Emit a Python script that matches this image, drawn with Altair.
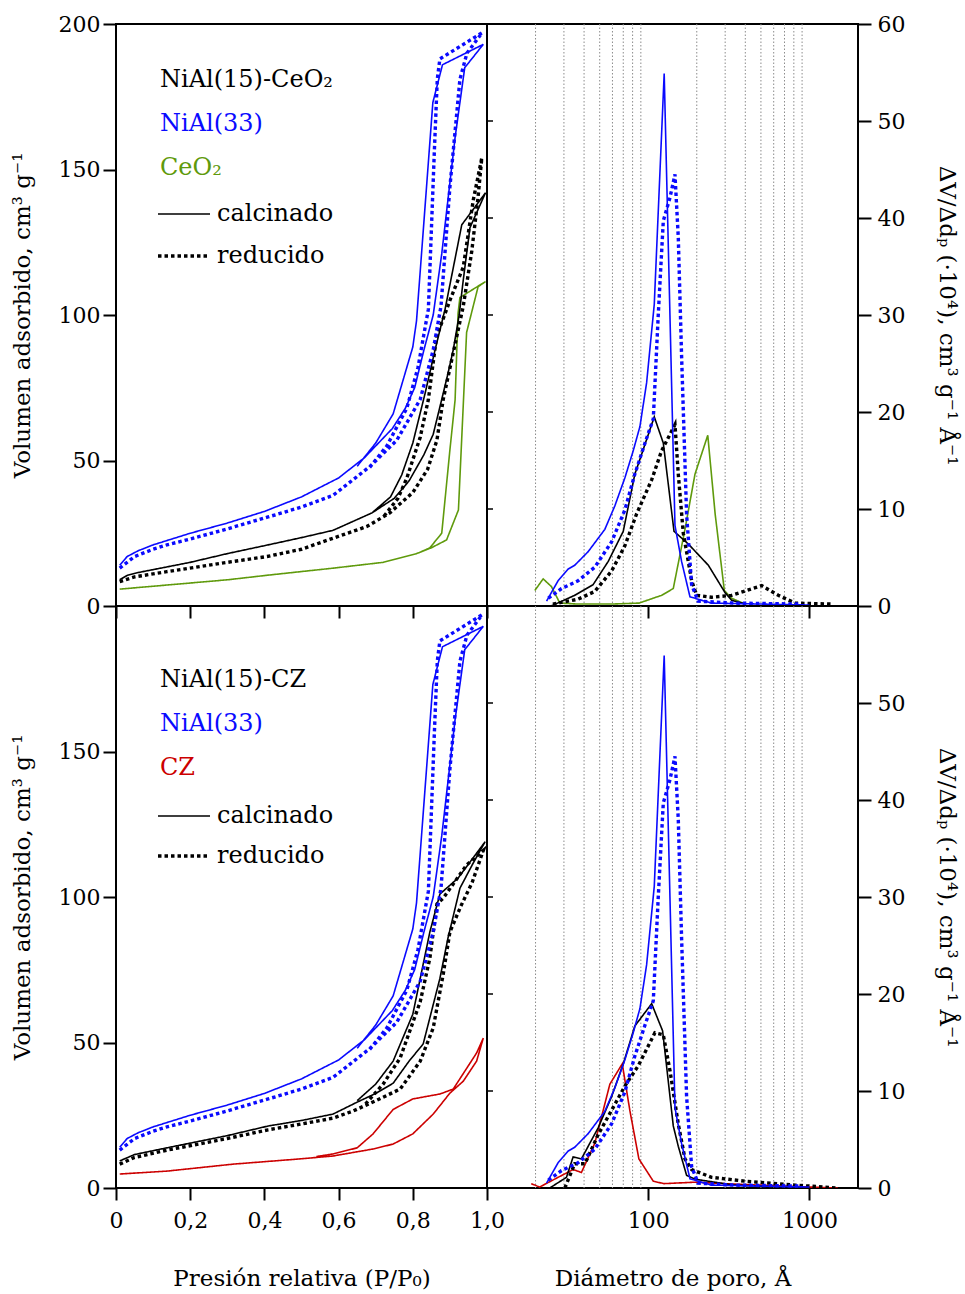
import altair as alt
import pandas as pd

FONT = "DejaVu Serif"
BLUE = "#0a0aff"
GREEN = "#5f9a0c"
RED = "#cc0000"
BLACK = "#000000"
GRIDC = "#8c8c8c"

# ---------------- Isotherms: relative pressure P/P0 and adsorbed volume ----------------
# NiAl(33) calcinado (same in both panels)
N33C_ADS_P = [0.01, 0.03, 0.06, 0.10, 0.15, 0.20, 0.30, 0.40, 0.50, 0.60, 0.67, 0.70, 0.745, 0.78, 0.805, 0.83, 0.855, 0.878, 0.914, 0.94, 0.99]
N33C_ADS_V = [14, 17, 19, 21, 23, 25, 28.5, 32.5, 37.5, 44, 51, 55, 61, 68, 75, 88, 100, 121, 161, 185, 193]
N33C_DES_P = [0.99, 0.88, 0.854, 0.81, 0.80, 0.747, 0.70, 0.65]
N33C_DES_V = [193, 186, 173, 98, 89, 66, 56, 48]
# NiAl(33) reducido
N33R_ADS_P = [0.01, 0.05, 0.10, 0.137, 0.20, 0.30, 0.41, 0.50, 0.585, 0.685, 0.757, 0.82, 0.855, 0.876, 0.90, 0.927, 0.946, 0.987]
N33R_ADS_V = [13, 17, 19.5, 21, 23, 26.5, 30.6, 34, 38, 48, 57, 71, 88, 103, 144, 181, 190, 197]
N33R_DES_P = [0.987, 0.873, 0.866, 0.858, 0.842, 0.814, 0.784, 0.73, 0.68]
N33R_DES_V = [197, 188, 181, 156, 102, 82, 68, 55, 47]

# NiAl(15)-CeO2 calcinado
NCEC_ADS_P = [0.01, 0.03, 0.06, 0.10, 0.20, 0.30, 0.41, 0.50, 0.585, 0.69, 0.75, 0.79, 0.83, 0.855, 0.878, 0.895, 0.909, 0.925, 0.936, 0.954, 0.996]
NCEC_ADS_V = [9, 10.5, 11.5, 12.5, 15, 18, 21, 23.5, 26, 32, 37, 43, 52, 59, 71, 80, 88, 100, 112, 130, 142]
NCEC_DES_P = [0.996, 0.932, 0.887, 0.86, 0.833, 0.80, 0.77, 0.74, 0.69]
NCEC_DES_V = [142, 131, 102, 88, 73, 56, 45, 37.5, 32]
# NiAl(15)-CeO2 reducido
NCER_ADS_P = [0.01, 0.05, 0.137, 0.30, 0.407, 0.50, 0.585, 0.676, 0.738, 0.80, 0.84, 0.865, 0.882, 0.909, 0.936, 0.959, 0.976, 0.986]
NCER_ADS_V = [8.4, 10, 11.8, 15, 17, 19.5, 23.3, 27.3, 32, 39, 47, 57, 71, 87, 103, 122, 140.6, 154]
NCER_DES_P = [0.986, 0.963, 0.936, 0.90, 0.864, 0.842, 0.82, 0.784, 0.76, 0.72]
NCER_DES_V = [154, 139.5, 116.5, 105, 92.5, 71, 58, 44, 37, 30.5]

# CeO2 calcinado
CEO_ADS_P = [0.01, 0.137, 0.30, 0.41, 0.585, 0.72, 0.81, 0.85, 0.891, 0.923, 0.945, 0.976, 0.996]
CEO_ADS_V = [5.8, 7.2, 9, 10.6, 13, 15, 18, 20, 22.7, 33, 94, 109.7, 111.5]
CEO_DES_P = [0.996, 0.927, 0.922, 0.914, 0.90, 0.878, 0.846, 0.82]
CEO_DES_V = [111.5, 106, 100.6, 70.8, 53.6, 25, 20, 18.5]

# NiAl(15)-CZ calcinado
NCZC_ADS_P = [0.01, 0.05, 0.137, 0.30, 0.41, 0.50, 0.585, 0.65, 0.70, 0.747, 0.79, 0.828, 0.873, 0.895, 0.927, 0.96, 0.98, 0.995]
NCZC_ADS_V = [9.3, 11.5, 13.8, 18, 21.3, 23.2, 25.4, 29.5, 32.5, 36, 43.6, 49.5, 72, 86, 103, 111, 115.6, 119]
NCZC_DES_P = [0.995, 0.922, 0.873, 0.846, 0.80, 0.747, 0.70, 0.65]
NCZC_DES_V = [119, 106.5, 101, 88, 59.7, 43.6, 35.7, 30]
# NiAl(15)-CZ reducido
NCZR_ADS_P = [0.01, 0.05, 0.137, 0.30, 0.41, 0.50, 0.585, 0.64, 0.70, 0.766, 0.82, 0.855, 0.882, 0.90, 0.93, 0.96, 0.99]
NCZR_ADS_V = [8.2, 10.5, 13, 17, 20, 22, 24, 26.5, 30, 34, 43.6, 55, 73.5, 88, 97, 105, 116]
NCZR_DES_P = [0.99, 0.945, 0.882, 0.865, 0.846, 0.82, 0.766, 0.72, 0.67]
NCZR_DES_V = [116, 111, 99.6, 97.6, 79, 64, 44.7, 35.7, 28.5]

# CZ calcinado
CZ_ADS_P = [0.01, 0.137, 0.316, 0.496, 0.585, 0.693, 0.747, 0.80, 0.855, 0.90, 0.936, 0.972, 0.99]
CZ_ADS_V = [4.8, 5.8, 8.2, 10, 11, 13.4, 15.1, 18.6, 25.4, 32.6, 36.7, 43.6, 51.5]
CZ_DES_P = [0.99, 0.972, 0.909, 0.873, 0.80, 0.747, 0.693, 0.65, 0.585, 0.54]
CZ_DES_V = [51.5, 46.4, 34, 32.3, 30.6, 27, 18.6, 13.8, 11.7, 10.8]

# ---------------- Pore size distributions: diameter (Å) and dV/dd ----------------
PSD_N33C_D = [23.4, 27.6, 31.8, 35, 42.4, 53.8, 62, 71.6, 80.7, 88.8, 97.7, 109, 125.6, 136.4, 146.5, 161, 181.5, 246, 500, 1000]
PSD_N33C_V = [0.5, 2.6, 3.8, 4.2, 5.6, 7.9, 10.3, 13.2, 16.0, 18.5, 23, 31.1, 54.9, 29.9, 8.3, 4.6, 0.95, 0.3, 0.2, 0.1]
PSD_N33R_D = [24, 29, 36.7, 46.6, 59.2, 71.6, 82.6, 95.5, 107.5, 115.3, 124, 136.4, 146.5, 153.6, 161, 172.9, 185.8, 204, 340, 860]
PSD_N33R_V = [0.8, 1.8, 2.6, 4.0, 6.6, 9.9, 13.6, 16.8, 19.3, 29.9, 39.7, 42.1, 44.5, 38, 25.8, 9.5, 2.2, 0.5, 0.3, 0.2]

PSD_NCEC_D = [25, 35, 45.5, 56.5, 70, 82.6, 90.8, 109, 124, 144.5, 177, 236, 299, 329, 400]
PSD_NCEC_V = [0, 1.1, 2.2, 4.6, 7.7, 13.6, 15.6, 19.5, 16.8, 7.7, 6.4, 4.2, 1.4, 0.6, 0.2]
PSD_NCER_D = [25.6, 36.7, 46.6, 59.2, 71.6, 84.7, 105, 121, 146.5, 153.6, 165, 186, 199.6, 247, 329, 506, 641, 815, 1371]
PSD_NCER_V = [0.2, 0.7, 1.5, 3.6, 6.2, 9.5, 13, 16, 18.7, 13.6, 7.5, 2.6, 1.1, 0.9, 1.1, 2.1, 1.1, 0.3, 0.2]
PSD_CEO_D = [19.8, 22.3, 25.1, 28.3, 36.7, 59, 87.7, 121, 143, 169, 195, 234, 260, 296.5, 329, 398]
PSD_CEO_V = [1.6, 2.8, 2.0, 0.3, 0.2, 0.2, 0.3, 1.1, 1.8, 7.9, 13.6, 17.6, 9.5, 1.6, 0.8, 0.2]

PSD_NCZC_D = [24.5, 31.1, 34.2, 38.5, 48.9, 59.2, 70, 82.6, 105, 122.8, 143, 153.6, 173, 196, 340, 1000]
PSD_NCZC_V = [0, 1.1, 3.2, 3.0, 6.2, 9.4, 12.8, 16.7, 19.0, 16.2, 6.4, 4.3, 1.3, 0.9, 0.3, 0]
PSD_NCZR_D = [30.4, 35, 40.5, 48.9, 59.2, 71.6, 86.7, 110, 124, 136.4, 153.6, 169, 186, 247, 398, 815, 1500]
PSD_NCZR_V = [0, 2.5, 2.5, 5.5, 8.0, 10.5, 12.6, 16.0, 15.8, 12.1, 6.6, 3.0, 1.9, 1.1, 0.7, 0.3, 0]
PSD_CZ_D = [18.8, 21.2, 27.6, 34.2, 38.5, 46.6, 57.8, 69, 76.9, 87.5, 107.5, 125, 196, 340, 1000, 1500]
PSD_CZ_V = [0.45, 0.1, 1.1, 1.9, 1.6, 4.6, 10.7, 12.8, 8.0, 3.0, 0.7, 0.45, 0.6, 0.4, 0.1, 0]

# Grid lines and tick values
GRID_D = [20, 30, 40, 50, 60, 70, 80, 90, 200, 300, 400, 500, 600, 700, 800, 900]
P_TICKS = [0, 0.2, 0.4, 0.6, 0.8, 1.0]
V_TICKS_TOP = [0, 50, 100, 150, 200]
V_TICKS_BOT = [0, 50, 100, 150]
D_TICKS = [100, 1000]
PSD_TICKS_TOP = [0, 10, 20, 30, 40, 50, 60]
PSD_TICKS_BOT = [0, 10, 20, 30, 40, 50]
INNER_TICKS = [10, 20, 30, 40, 50]

W, H = 371, 582
LW_SOLID = 1.6
LW_DOT = 3.4
DASH = [3.5, 3]
LABEL_FS = 22
TITLE_FS = 23
LEG_FS = 24


def iso_df(ap, av, dp, dv):
    p = list(ap) + list(dp)
    v = list(av) + list(dv)
    return pd.DataFrame({"x": p, "y": v, "o": list(range(len(p)))})


def psd_df(d, v):
    return pd.DataFrame({"x": d, "y": v, "o": list(range(len(d)))})


def line_layer(df, color, dotted, xenc, yenc):
    return alt.Chart(df).mark_line(
        color=color,
        strokeWidth=LW_DOT if dotted else LW_SOLID,
        strokeDash=DASH if dotted else [1, 0],
        strokeCap="butt",
        strokeJoin="miter",
        clip=True,
    ).encode(x=xenc, y=yenc, order="o:Q")


ONE = pd.DataFrame({"a": [0]})


def text_at(txt, color, x, y):
    return alt.Chart(ONE).mark_text(
        text=txt, color=color, align="left", baseline="middle", font=FONT, fontSize=LEG_FS
    ).encode(x=alt.value(x), y=alt.value(y))


def rule_at(x1, x2, y, dotted):
    return alt.Chart(ONE).mark_rule(
        color=BLACK,
        strokeWidth=LW_DOT if dotted else LW_SOLID,
        strokeDash=DASH if dotted else [1, 0],
        strokeCap="butt",
    ).encode(x=alt.value(x1), x2=alt.value(x2), y=alt.value(y))


P_LABEL_EXPR = "datum.value == 0 ? '0' : replace(format(datum.value, '.1f'), '.', ',')"


def iso_panel(series, legend_names, legend_colors, legend_ys, vticks, show_x):
    xaxis = alt.Axis(values=P_TICKS, labels=show_x, labelExpr=P_LABEL_EXPR, tickSize=12,
                     labelFlush=False, labelOverlap=False,
                     labelPadding=10, title="Presión relativa (P/P₀)" if show_x else None,
                     titlePadding=36)
    yaxis = alt.Axis(values=vticks, tickSize=13, labelPadding=3,
                     title="Volumen adsorbido, cm³ g⁻¹", titlePadding=24)
    xenc = alt.X("x:Q", scale=alt.Scale(domain=[0, 1], nice=False, zero=False), axis=xaxis)
    yenc = alt.Y("y:Q", scale=alt.Scale(domain=[0, 200], nice=False), axis=yaxis)
    layers = [line_layer(df, c, d, xenc, yenc) for df, c, d in series]
    for name, col, yy in zip(legend_names, legend_colors, legend_ys[:3]):
        layers.append(text_at(name, col, 44, yy))
    y4, y5 = legend_ys[3], legend_ys[4]
    layers += [rule_at(42, 94, y4, False), text_at("calcinado", BLACK, 101, y4),
               rule_at(42, 94, y5, True), text_at("reducido", BLACK, 101, y5)]
    return alt.layer(*layers).properties(width=W, height=H)


def psd_panel(series, vticks, show_x):
    xaxis = alt.Axis(values=D_TICKS, labels=show_x, format="d", tickSize=12, labelPadding=10,
                     labelFlush=False,
                     title="Diámetro de poro, Å" if show_x else None, titlePadding=36)
    yaxis = alt.Axis(orient="right", values=vticks, tickSize=13, labelPadding=6,
                     title="ΔV/Δdₚ (·10⁴), cm³ g⁻¹ Å⁻¹", titlePadding=30)
    xenc = alt.X("x:Q", scale=alt.Scale(type="log", domain=[10, 2000], nice=False), axis=xaxis)
    yenc = alt.Y("y:Q", scale=alt.Scale(domain=[0, 60], nice=False), axis=yaxis)
    grid = alt.Chart(pd.DataFrame({"x": GRID_D})).mark_rule(
        color=GRIDC, strokeWidth=1, strokeDash=[1.5, 2]).encode(x=xenc)
    inner = alt.Chart(pd.DataFrame({"y": INNER_TICKS})).mark_rule(
        color=BLACK, strokeWidth=1.5).encode(x=alt.value(0), x2=alt.value(6), y=yenc)
    layers = [grid, inner] + [line_layer(df, c, d, xenc, yenc) for df, c, d in series]
    return alt.layer(*layers).properties(width=W, height=H)


n33c = iso_df(N33C_ADS_P, N33C_ADS_V, N33C_DES_P, N33C_DES_V)
n33r = iso_df(N33R_ADS_P, N33R_ADS_V, N33R_DES_P, N33R_DES_V)

top_left = iso_panel(
    [(iso_df(CEO_ADS_P, CEO_ADS_V, CEO_DES_P, CEO_DES_V), GREEN, False),
     (iso_df(NCEC_ADS_P, NCEC_ADS_V, NCEC_DES_P, NCEC_DES_V), BLACK, False),
     (iso_df(NCER_ADS_P, NCER_ADS_V, NCER_DES_P, NCER_DES_V), BLACK, True),
     (n33c, BLUE, False), (n33r, BLUE, True)],
    ["NiAl(15)-CeO₂", "NiAl(33)", "CeO₂"], [BLACK, BLUE, GREEN],
    [56, 100, 144, 190, 232], V_TICKS_TOP, False)

bot_left = iso_panel(
    [(iso_df(CZ_ADS_P, CZ_ADS_V, CZ_DES_P, CZ_DES_V), RED, False),
     (iso_df(NCZC_ADS_P, NCZC_ADS_V, NCZC_DES_P, NCZC_DES_V), BLACK, False),
     (iso_df(NCZR_ADS_P, NCZR_ADS_V, NCZR_DES_P, NCZR_DES_V), BLACK, True),
     (n33c, BLUE, False), (n33r, BLUE, True)],
    ["NiAl(15)-CZ", "NiAl(33)", "CZ"], [BLACK, BLUE, RED],
    [74, 118, 162, 210, 250], V_TICKS_BOT, True)

p33c = psd_df(PSD_N33C_D, PSD_N33C_V)
p33r = psd_df(PSD_N33R_D, PSD_N33R_V)

top_right = psd_panel(
    [(psd_df(PSD_CEO_D, PSD_CEO_V), GREEN, False),
     (psd_df(PSD_NCEC_D, PSD_NCEC_V), BLACK, False),
     (psd_df(PSD_NCER_D, PSD_NCER_V), BLACK, True),
     (p33c, BLUE, False), (p33r, BLUE, True)],
    PSD_TICKS_TOP, False)

bot_right = psd_panel(
    [(psd_df(PSD_CZ_D, PSD_CZ_V), RED, False),
     (psd_df(PSD_NCZC_D, PSD_NCZC_V), BLACK, False),
     (psd_df(PSD_NCZR_D, PSD_NCZR_V), BLACK, True),
     (p33c, BLUE, False), (p33r, BLUE, True)],
    PSD_TICKS_BOT, True)

chart = alt.concat(
    top_left, top_right, bot_left, bot_right, columns=2, spacing=0, bounds="flush"
).resolve_scale(
    x="independent", y="independent"
).properties(
    padding={"left": 10, "top": 12, "right": 5, "bottom": 5},
    background="white",
).configure_view(
    stroke=BLACK, strokeWidth=2
).configure_axis(
    labelFont=FONT, titleFont=FONT, labelFontSize=LABEL_FS, titleFontSize=TITLE_FS,
    labelColor=BLACK, titleColor=BLACK, tickColor=BLACK, tickWidth=2,
    domain=False, grid=False, titleFontWeight="normal",
)

chart.save("out.html", embed_options={"renderer": "svg", "actions": False})
